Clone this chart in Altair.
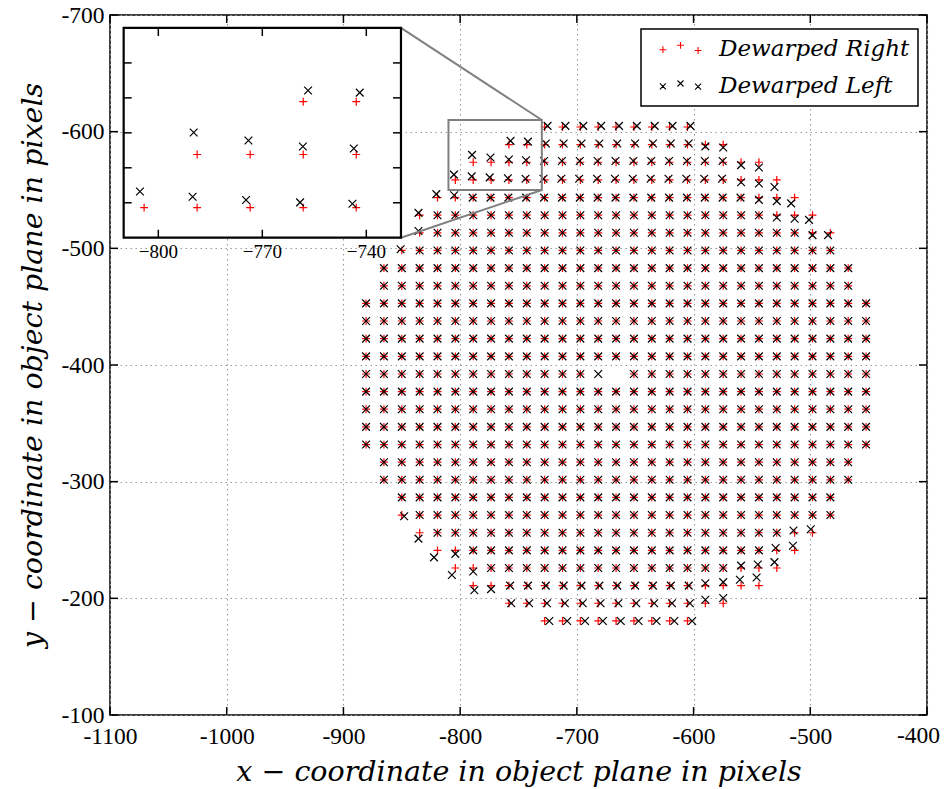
import altair as alt
import pandas as pd

# ---------------- data ----------------
# grid columns / rows of the "Dewarped Right" points (object-plane pixels)
col_x = [-880.6, -865.3, -850.0, -834.7, -819.4, -804.1, -788.8, -773.5, -758.2, -742.9,
         -727.6, -712.3, -697.0, -681.7, -666.4, -651.1, -635.8, -620.5, -605.2, -589.9,
         -574.6, -559.3, -544.0, -528.7, -513.4, -498.1, -482.8, -467.5, -452.2]
row_y = [-604.0, -588.9, -573.8, -558.6, -543.5, -528.4, -513.3, -498.2, -483.0, -467.9,
         -452.8, -437.7, -422.6, -407.4, -392.3, -377.2, -362.1, -347.0, -331.8, -316.7,
         -301.6, -286.5, -271.4, -256.2, -241.1, -226.0, -210.9, -195.8, -180.6]
# first / last column index present in each row
row_first = [10, 8, 6, 5, 4, 3, 3, 2, 1, 1, 0, 0, 0, 0, 0, 0, 0, 0, 0, 1, 1, 2, 2, 3, 4, 5, 6, 8, 10]
row_last = [18, 20, 22, 23, 24, 25, 26, 26, 27, 27, 28, 28, 28, 28, 28, 28, 28, 28, 28, 27, 27, 26, 26, 25, 24, 23, 22, 20, 18]
# typical shift of "Dewarped Left" relative to "Dewarped Right" per row
row_dx = [2.5, 1.0, -0.5, -1.0, -0.5, 0, 0, 0, 0, 0, 0, 0, 0, 0, 0, 0, 0, 0, 0, 0, 0, 0, 0, 0, 0, 0, 1.0, 2.0, 4.0]
row_dy = [-1.0, -1.0, -1.0, -1.0, 0, 0, 0, 0, 0, 0, 0, 0, 0, 0, 0, 0, 0, 0, 0, 0, 0, 0, 0, 0, 0, 0, 0, 0, 0]
# individual shifts (row, col, dx, dy) of "Dewarped Left" near the rim
left_offsets = [
    (1, 8, 1.4, -3.2), (1, 9, 1.0, -2.6),
    (2, 6, -1.0, -6.3), (2, 7, -0.5, -4.0), (2, 8, -0.1, -2.3), (2, 9, -0.7, -1.7),
    (3, 5, -1.2, -4.6), (3, 6, -1.3, -3.1), (3, 7, -1.2, -2.2), (3, 8, -0.9, -1.5), (3, 9, -1.1, -1.1),
    (4, 4, -1.0, -3.0), (4, 5, -1.0, -2.0), (5, 3, -1.0, -2.0), (6, 3, -1.0, -1.5), (7, 2, -1.0, -1.0),
    (1, 19, 0, 1.5), (1, 20, 0, 2.5), (2, 21, 0, 2.5), (2, 22, 0, 4.5), (3, 21, 0, 2.0), (3, 22, 0, 3.0),
    (3, 23, -2, 6), (4, 22, 0, 2), (4, 23, 0, 3), (4, 24, -3, 5), (5, 23, 0, 2), (5, 24, 0, 3),
    (5, 25, -3, 4), (6, 25, 0, 2), (6, 26, -2, 2),
    (23, 24, -1, -2), (23, 25, -1.5, -3), (24, 23, -1, -2), (24, 24, -1.5, -4), (25, 21, 0, -2),
    (25, 22, -1, -3), (25, 23, -2, -5), (26, 19, 0, -2), (26, 20, 0, -3), (26, 21, -1, -5),
    (26, 22, -2, -7), (27, 19, 0, -3), (27, 20, 0, -4.5),
    (22, 2, 2, 1), (23, 3, -1, 5), (24, 4, -3, 6), (24, 5, 0, 3), (25, 5, -3, 6), (25, 6, 0, 3),
    (26, 6, 1, 4), (26, 7, 0, 3),
]
missing_right = [(14, 13), (14, 14)]
missing_left = [(14, 14)]

series = ["Dewarped Right", "Dewarped Left"]
x_ticks = [-1100, -1000, -900, -800, -700, -600, -500, -400]
y_ticks = [-700, -600, -500, -400, -300, -200, -100]
inset_x_range = [-810, -730]
inset_y_range = [-610, -550]
inset_x_ticks = [-800, -770, -740]
inset_y_ticks = [-600, -590, -580, -570, -560]
inset_box_x = [-1088.3, -850.7]   # where the inset sits, in main-axis units
inset_box_y = [-688.9, -509.1]

# ---------------- build tables ----------------
off = {(r, k): (dx, dy) for r, k, dx, dy in left_offsets}
right_rows, left_rows = [], []
for r, y in enumerate(row_y):
    for k in range(row_first[r], row_last[r] + 1):
        x = col_x[k]
        if (r, k) not in missing_right:
            right_rows.append({"x": x, "y": y})
        if (r, k) not in missing_left:
            dx, dy = off.get((r, k), (row_dx[r], row_dy[r]))
            left_rows.append({"x": round(x + dx, 2), "y": round(y + dy, 2)})
df_right = pd.DataFrame(right_rows)
df_left = pd.DataFrame(left_rows)

W, H = 817, 700
X_DOM = [x_ticks[0], x_ticks[-1]]
Y_DOM = [y_ticks[0], y_ticks[-1]]

PLUS = "M-1,0L1,0M0,-1L0,1"
CROSS = "M-1,-1L1,1M-1,1L1,-1"


def plus_at(cx, cy, a):
    return f"M{cx - a:.2f},{cy:.2f}L{cx + a:.2f},{cy:.2f}M{cx:.2f},{cy - a:.2f}L{cx:.2f},{cy + a:.2f}"


def cross_at(cx, cy, a):
    return (f"M{cx - a:.2f},{cy - a:.2f}L{cx + a:.2f},{cy + a:.2f}"
            f"M{cx - a:.2f},{cy + a:.2f}L{cx + a:.2f},{cy - a:.2f}")


PLUS3 = "".join(plus_at(cx, cy, 0.85) for cx, cy in [(-4.4, 0.3), (0, -0.8), (4.4, 0.5)])
CROSS3 = "".join(cross_at(cx, cy, 0.75) for cx, cy in [(-4.4, 0.2), (0, -0.5), (4.4, 0.3)])

SERIF = "Liberation Serif"
TSERIF = "DejaVu Serif"
LABEL_SIZE = 23.5
MS_PLUS, MS_CROSS, MSW = 62, 60, 1.2

xscale = alt.Scale(domain=X_DOM, nice=False, zero=False)
yscale = alt.Scale(domain=Y_DOM, nice=False, zero=False, reverse=True)
# the last x label is drawn separately (kept inside the canvas)
xaxis = alt.Axis(values=x_ticks, title="x − coordinate in object plane in pixels",
                 grid=True, ticks=False, tickSize=0, domain=False, labelPadding=9,
                 labelFlush=False, titlePadding=10,
                 labelExpr=f"datum.value == {x_ticks[-1]} ? '' : '-' + format(-datum.value, 'd')")
yaxis = alt.Axis(values=y_ticks, title="y − coordinate in object plane in pixels",
                 grid=True, ticks=False, tickSize=0, domain=False, labelPadding=6,
                 labelFlush=False, titlePadding=13,
                 labelExpr="'-' + format(-datum.value, 'd')")


def X(f):
    return alt.X(f, scale=xscale, axis=xaxis)


def Y(f):
    return alt.Y(f, scale=yscale, axis=yaxis)


red = alt.Chart(df_right).mark_point(shape=PLUS, size=MS_PLUS, filled=False, color="#ff0000",
                                     strokeWidth=MSW, opacity=1).encode(x=X("x:Q"), y=Y("y:Q"))
black = alt.Chart(df_left).mark_point(shape=CROSS, size=MS_CROSS, filled=False, color="#000000",
                                      strokeWidth=MSW, opacity=1).encode(x=X("x:Q"), y=Y("y:Q"))

zoom_df = pd.DataFrame({"x": [inset_x_range[0]], "x2": [inset_x_range[1]],
                        "y": [inset_y_range[0]], "y2": [inset_y_range[1]]})
zoom_rect = alt.Chart(zoom_df).mark_rect(fillOpacity=0, stroke="#808080", strokeWidth=2).encode(
    x=X("x:Q"), x2="x2:Q", y=Y("y:Q"), y2="y2:Q")

conn_df = pd.DataFrame({"x": [inset_box_x[1], inset_box_x[1]],
                        "y": [inset_box_y[0], inset_box_y[1]],
                        "x2": [inset_x_range[1], inset_x_range[1]],
                        "y2": [inset_y_range[0], inset_y_range[1]]})
connectors = alt.Chart(conn_df).mark_rule(color="#808080", strokeWidth=2).encode(
    x=X("x:Q"), y=Y("y:Q"), x2="x2:Q", y2="y2:Q")

TL = 8
xt = pd.DataFrame({"v": x_ticks})
yt = pd.DataFrame({"v": y_ticks})
tick_b = alt.Chart(xt).mark_rule(color="black", strokeWidth=1.5).encode(
    x=X("v:Q"), y=alt.value(H), y2=alt.value(H - TL))
tick_t = alt.Chart(xt).mark_rule(color="black", strokeWidth=1.5).encode(
    x=X("v:Q"), y=alt.value(0), y2=alt.value(TL))
tick_l = alt.Chart(yt).mark_rule(color="black", strokeWidth=1.5).encode(
    y=Y("v:Q"), x=alt.value(0), x2=alt.value(TL))
tick_r = alt.Chart(yt).mark_rule(color="black", strokeWidth=1.5).encode(
    y=Y("v:Q"), x=alt.value(W), x2=alt.value(W - TL))

last_lab = pd.DataFrame({"v": [x_ticks[-1]], "lab": ["-" + str(-x_ticks[-1])]})
last_label = alt.Chart(last_lab).mark_text(
    font=SERIF, fontSize=LABEL_SIZE, align="right", baseline="top", dx=13, dy=9, color="black"
).encode(x=X("v:Q"), y=alt.value(H), text="lab:N")

leg = alt.Legend(title=None, orient="none", legendX=531, legendY=14, direction="vertical",
                 strokeColor="black", fillColor="white", padding=8, cornerRadius=0,
                 labelFont=TSERIF, labelFontStyle="italic", labelFontSize=23, labelColor="black",
                 labelLimit=400, symbolSize=64, symbolStrokeWidth=1.1, symbolOpacity=1,
                 symbolOffset=20, labelOffset=27, rowPadding=13)
legend_layer = alt.Chart(pd.DataFrame({"series": series})).mark_point(filled=False, opacity=0).encode(
    color=alt.Color("series:N", scale=alt.Scale(domain=series, range=["#ff0000", "#000000"]), legend=leg),
    shape=alt.Shape("series:N", scale=alt.Scale(domain=series, range=[PLUS3, CROSS3]), legend=leg),
)

main = alt.layer(red, black, zoom_rect, connectors, tick_b, tick_t, tick_l, tick_r,
                 last_label, legend_layer)

# ---------------- inset (own scales placed over the box) ----------------
sx = (inset_x_range[1] - inset_x_range[0]) / (inset_box_x[1] - inset_box_x[0])
sy = (inset_y_range[1] - inset_y_range[0]) / (inset_box_y[1] - inset_box_y[0])
ix_dom = [inset_x_range[0] + (X_DOM[0] - inset_box_x[0]) * sx,
          inset_x_range[0] + (X_DOM[1] - inset_box_x[0]) * sx]
iy_dom = [inset_y_range[0] + (Y_DOM[0] - inset_box_y[0]) * sy,
          inset_y_range[0] + (Y_DOM[1] - inset_box_y[0]) * sy]
ixs = alt.Scale(domain=ix_dom, nice=False, zero=False)
iys = alt.Scale(domain=iy_dom, nice=False, zero=False, reverse=True)


def IX(f):
    return alt.X(f, scale=ixs, axis=None)


def IY(f):
    return alt.Y(f, scale=iys, axis=None)


in_box = ((alt.datum.x >= inset_x_range[0]) & (alt.datum.x <= inset_x_range[1]) &
          (alt.datum.y >= inset_y_range[0]) & (alt.datum.y <= inset_y_range[1]))

inset_bg = alt.Chart(zoom_df).mark_rect(fill="white", stroke="black", strokeWidth=2.2).encode(
    x=IX("x:Q"), x2="x2:Q", y=IY("y:Q"), y2="y2:Q")
inset_red = alt.Chart(df_right).transform_filter(in_box).mark_point(
    shape=PLUS, size=MS_PLUS, filled=False, color="#ff0000", strokeWidth=MSW, opacity=1).encode(
    x=IX("x:Q"), y=IY("y:Q"))
inset_black = alt.Chart(df_left).transform_filter(in_box).mark_point(
    shape=CROSS, size=MS_CROSS, filled=False, color="#000000", strokeWidth=MSW, opacity=1).encode(
    x=IX("x:Q"), y=IY("y:Q"))

ixt = pd.DataFrame({"v": inset_x_ticks, "lab": ["\u2212" + str(-v) for v in inset_x_ticks],
                    "b": inset_y_range[1], "t": inset_y_range[0]})
iyt = pd.DataFrame({"v": inset_y_ticks, "l": inset_x_range[0], "r": inset_x_range[1]})
itb = alt.Chart(ixt).mark_rule(color="black", strokeWidth=1.5, y2Offset=-TL).encode(
    x=IX("v:Q"), y=IY("b:Q"), y2="b:Q")
itt = alt.Chart(ixt).mark_rule(color="black", strokeWidth=1.5, y2Offset=TL).encode(
    x=IX("v:Q"), y=IY("t:Q"), y2="t:Q")
itl = alt.Chart(iyt).mark_rule(color="black", strokeWidth=1.5, x2Offset=TL).encode(
    y=IY("v:Q"), x=IX("l:Q"), x2="l:Q")
itr = alt.Chart(iyt).mark_rule(color="black", strokeWidth=1.5, x2Offset=-TL).encode(
    y=IY("v:Q"), x=IX("r:Q"), x2="r:Q")
ilab = alt.Chart(ixt).mark_text(font=SERIF, fontSize=19, baseline="top", dy=5, color="black").encode(
    x=IX("v:Q"), y=IY("b:Q"), text="lab:N")

inset = alt.layer(inset_bg, inset_red, inset_black, itb, itt, itl, itr, ilab)

chart = alt.layer(main, inset).resolve_scale(x="independent", y="independent").properties(
    width=W, height=H,
    padding={"left": 110, "top": 15, "right": 20, "bottom": 74},
    autosize=alt.AutoSizeParams(type="none"),
    background="white",
).configure_view(stroke="black", strokeWidth=1.5).configure_axis(
    labelFont=SERIF, labelFontSize=LABEL_SIZE, labelColor="black",
    titleFont=TSERIF, titleFontStyle="italic", titleFontWeight="normal", titleFontSize=28.5,
    titleColor="black", gridColor="#9a9a9a", gridDash=[1.5, 3.5], gridWidth=1.1,
).configure_legend(strokeWidth=1.5)

chart.save("out.html", embed_options={"renderer": "svg", "actions": False})
